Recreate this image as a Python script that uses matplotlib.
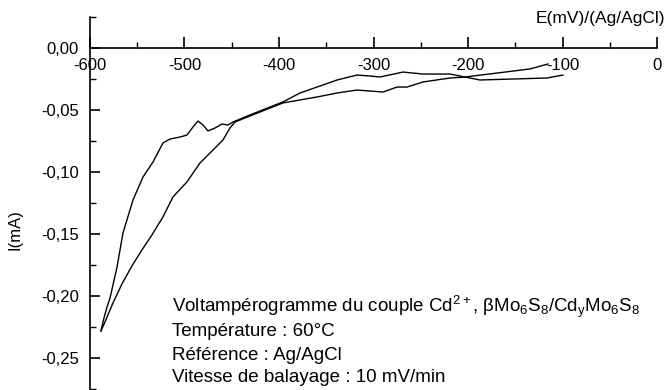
import matplotlib
matplotlib.use("Agg")
import matplotlib.pyplot as plt
from matplotlib.ticker import MultipleLocator, FuncFormatter

plt.rcParams['font.family'] = ['Liberation Sans', 'DejaVu Sans']
plt.rcParams['mathtext.fontset'] = 'custom'
plt.rcParams['mathtext.rm'] = 'Liberation Sans'
plt.rcParams['mathtext.it'] = 'Liberation Sans:italic'
plt.rcParams['mathtext.bf'] = 'Liberation Sans:bold'

# Branch 1: outer branch (with bumps near -480 mV) from the vertex back to -100 mV
e_branch1 = [-588.4, -585.2, -582.0, -578.8, -571.4, -565.1, -554.5, -543.9, -533.3,
             -522.8, -515.3, -504.8, -497.4, -491.0, -485.7, -480.4, -475.1, -467.7,
             -460.3, -453.9, -448.7, -430.7, -409.5, -395.8, -377.8, -359.8, -338.6,
             -317.5, -303.7, -293.1, -268.8, -247.6, -219.0, -203.2, -187.3, -152.4,
             -116.4, -99.5]
i_branch1 = [-0.2282, -0.2177, -0.2088, -0.2016, -0.1766, -0.1492, -0.1226, -0.1040, -0.0919,
             -0.0766, -0.0734, -0.0718, -0.0702, -0.0637, -0.0589, -0.0621, -0.0669, -0.0645,
             -0.0613, -0.0621, -0.0597, -0.0540, -0.0476, -0.0435, -0.0363, -0.0315, -0.0258,
             -0.0218, -0.0226, -0.0234, -0.0194, -0.0210, -0.0210, -0.0234, -0.0258, -0.0250,
             -0.0242, -0.0218]

# Branch 2: inner branch from the vertex back to about -115 mV
e_branch2 = [-588.4, -584.1, -575.7, -566.1, -555.6, -545.0, -534.4, -522.8, -512.2,
             -497.4, -483.6, -469.8, -459.3, -451.9, -446.6, -430.7, -409.5, -395.8,
             -377.8, -359.8, -338.6, -317.5, -289.9, -275.1, -264.5, -247.6, -219.0,
             -203.2, -169.3, -134.4, -115.3]
i_branch2 = [-0.2282, -0.2209, -0.2056, -0.1902, -0.1757, -0.1628, -0.1507, -0.1362, -0.1201,
             -0.1080, -0.0927, -0.0822, -0.0742, -0.0645, -0.0597, -0.0548, -0.0484, -0.0443,
             -0.0419, -0.0395, -0.0363, -0.0339, -0.0355, -0.0315, -0.0315, -0.0274, -0.0242,
             -0.0234, -0.0202, -0.0169, -0.0129]

x_label = "E(mV)/(Ag/AgCl)"
y_label = "I(mA)"
notes = [
    r"Voltampérogramme du couple Cd$^{\mathrm{2+}}$, βMo$_{\mathrm{6}}$S$_{\mathrm{8}}$/Cd$_{\mathrm{y}}$Mo$_{\mathrm{6}}$S$_{\mathrm{8}}$",
    "Température : 60°C",
    "Référence : Ag/AgCl",
    "Vitesse de balayage : 10 mV/min",
]

W, H = 667, 390
fig = plt.figure(figsize=(W / 100, H / 100), dpi=100)
ax = fig.add_axes([90 / W, 0.0, (657 - 90) / W, (H - 17) / H])

ax.plot(e_branch1, i_branch1, color='black', lw=1.0)
ax.plot(e_branch2, i_branch2, color='black', lw=1.0)

ax.set_xlim(-600, 0)
ax.set_ylim(-0.2758, 0.025)

ax.spines['top'].set_visible(False)
ax.spines['right'].set_visible(False)
ax.spines['bottom'].set_position(('data', 0))
ax.spines['left'].set_linewidth(1.2)
ax.spines['bottom'].set_linewidth(1.2)

ax.xaxis.set_major_locator(MultipleLocator(100))
ax.xaxis.set_minor_locator(MultipleLocator(50))
ax.yaxis.set_major_locator(MultipleLocator(0.05))
ax.yaxis.set_minor_locator(MultipleLocator(0.025))

ax.xaxis.set_major_formatter(FuncFormatter(lambda v, p: "0" if abs(v) < 1e-9 else f"{v:.0f}"))
ax.yaxis.set_major_formatter(FuncFormatter(lambda v, p: ("0,00" if abs(v) < 1e-9 else f"{v:.2f}".replace(".", ","))))

ax.tick_params(axis='x', which='major', direction='in', length=8, width=1.2, pad=7, labelsize=12)
ax.tick_params(axis='x', which='minor', direction='in', length=4, width=1.0)
ax.tick_params(axis='y', which='major', direction='in', length=7, width=1.2, pad=8, labelsize=12)
ax.tick_params(axis='y', which='minor', direction='in', length=4, width=1.0)

fig.text(665 / W, 1 - 18 / H, x_label, ha='right', va='center', fontsize=12.5)
fig.text(15 / W, 1 - 230 / H, y_label, ha='center', va='center', rotation=90, fontsize=12)

note_y = [307, 331, 355, 378]
for t, yy in zip(notes, note_y):
    fig.text(172 / W, 1 - yy / H, t, ha='left', va='center', fontsize=13.5)

fig.savefig("out.png", dpi=100)
